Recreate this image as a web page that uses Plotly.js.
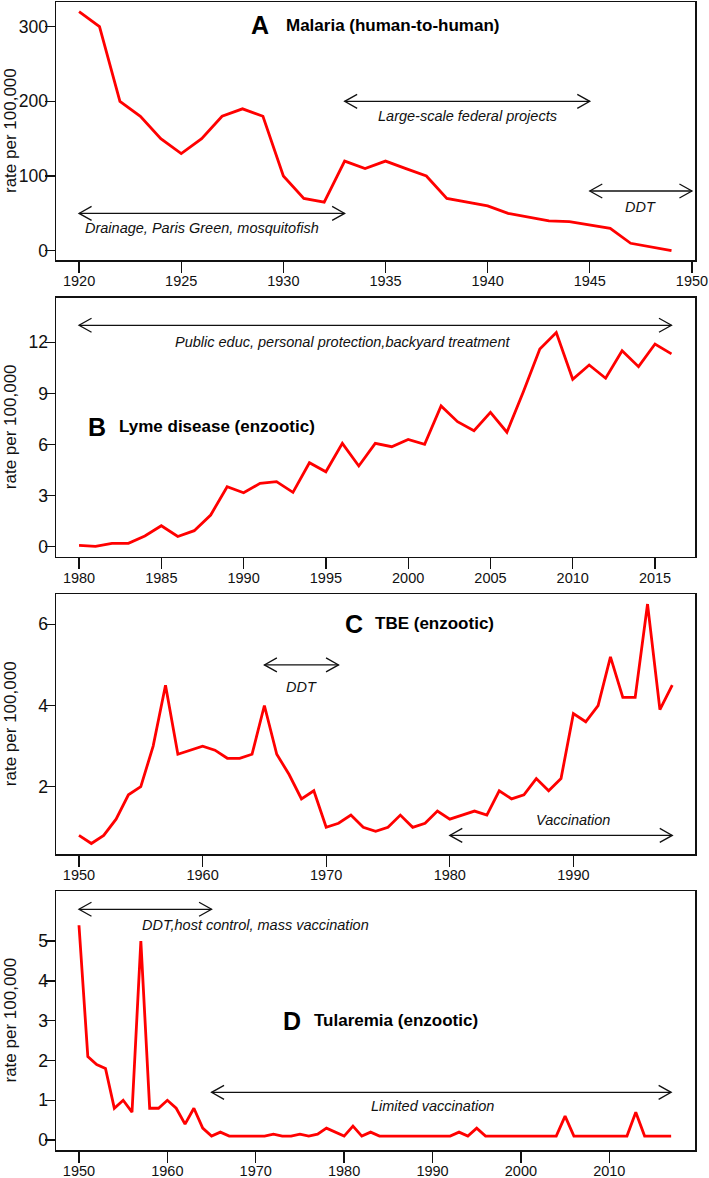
<!DOCTYPE html>
<html>
<head>
<meta charset="utf-8">
<script src="https://cdn.plot.ly/plotly-3.0.1.min.js"></script>
<style>html,body{margin:0;padding:0;background:#fff;}#chart{width:709px;height:1178px;}</style>
</head>
<body>
<div id="chart"></div>
<script>
// ---- Panel A: Malaria (human-to-human) ----
const yearsA = [1920,1921,1922,1923,1924,1925,1926,1927,1928,1929,1930,1931,1932,1933,1934,1935,1936,1937,1938,1939,1940,1941,1942,1943,1944,1945,1946,1947,1948,1949];
const malaria = [320,300,200,180,150,130,150,180,190,180,100,70,65,120,110,120,110,100,70,65,60,50,45,40,39,34,30,10,5,0];

// ---- Panel B: Lyme disease (enzootic) ----
const yearsB = [1980,1981,1982,1983,1984,1985,1986,1987,1988,1989,1990,1991,1992,1993,1994,1995,1996,1997,1998,1999,2000,2001,2002,2003,2004,2005,2006,2007,2008,2009,2010,2011,2012,2013,2014,2015,2016];
const lyme = [0.08,0.02,0.2,0.2,0.63,1.23,0.6,0.94,1.86,3.52,3.17,3.72,3.82,3.19,4.93,4.4,6.07,4.74,6.07,5.87,6.3,6.01,8.26,7.34,6.81,7.89,6.72,9.1,11.61,12.57,9.83,10.67,9.89,11.51,10.57,11.9,11.32];

// ---- Panel C: TBE (enzootic) ----
const yearsC = [1950,1951,1952,1953,1954,1955,1956,1957,1958,1959,1960,1961,1962,1963,1964,1965,1966,1967,1968,1969,1970,1971,1972,1973,1974,1975,1976,1977,1978,1979,1980,1981,1982,1983,1984,1985,1986,1987,1988,1989,1990,1991,1992,1993,1994,1995,1996,1997,1998];
const tbe = [0.8,0.6,0.8,1.2,1.8,2.0,3.0,4.5,2.8,2.9,3.0,2.9,2.7,2.7,2.8,4.0,2.8,2.3,1.7,1.9,1.0,1.1,1.3,1.0,0.9,1.0,1.3,1.0,1.1,1.4,1.2,1.3,1.4,1.3,1.9,1.7,1.8,2.2,1.9,2.2,3.8,3.6,4.0,5.2,4.2,4.2,6.5,3.9,4.5];

// ---- Panel D: Tularemia (enzootic) ----
const yearsD = [1950,1951,1952,1953,1954,1955,1956,1957,1958,1959,1960,1961,1962,1963,1964,1965,1966,1967,1968,1969,1970,1971,1972,1973,1974,1975,1976,1977,1978,1979,1980,1981,1982,1983,1984,1985,1986,1987,1988,1989,1990,1991,1992,1993,1994,1995,1996,1997,1998,1999,2000,2001,2002,2003,2004,2005,2006,2007,2008,2009,2010,2011,2012,2013,2014,2015,2016,2017];
const tularemia = [5.4,2.1,1.9,1.8,0.8,1.0,0.7,5.0,0.8,0.8,1.0,0.8,0.4,0.8,0.3,0.1,0.2,0.1,0.1,0.1,0.1,0.1,0.15,0.1,0.1,0.15,0.1,0.15,0.3,0.2,0.1,0.35,0.1,0.2,0.1,0.1,0.1,0.1,0.1,0.1,0.1,0.1,0.1,0.2,0.1,0.3,0.1,0.1,0.1,0.1,0.1,0.1,0.1,0.1,0.1,0.6,0.1,0.1,0.1,0.1,0.1,0.1,0.1,0.7,0.1,0.1,0.1,0.1];

// ---- Tick labels ----
const ticksAx = [1920,1925,1930,1935,1940,1945,1950];
const ticksAy = [0,100,200,300];
const ticksBx = [1980,1985,1990,1995,2000,2005,2010,2015];
const ticksBy = [0,3,6,9,12];
const ticksCx = [1950,1960,1970,1980,1990];
const ticksCy = [2,4,6];
const ticksDx = [1950,1960,1970,1980,1990,2000,2010];
const ticksDy = [0,1,2,3,4,5];

// ---- Panel titles and intervention labels ----
const letters = ['A','B','C','D'];
const panelTitles = ['Malaria (human-to-human)','Lyme disease (enzootic)','TBE (enzootic)','Tularemia (enzootic)'];
// interventions: [panel index, start year, end year, arrow level, label, label x, label y]
const interventions = [
  [0,1920,1933,50,'Drainage, Paris Green, mosquitofish',1926.0,30],
  [0,1933,1945,200,'Large-scale federal projects',1939.0,181],
  [0,1945,1950,80,'DDT',1947.5,59],
  [1,1980,2016,13,'Public educ, personal protection,backyard treatment',1996.0,12.04],
  [2,1965,1971,5.0,'DDT',1968.0,4.46],
  [2,1980,1998,0.8,'Vaccination',1990.0,1.18],
  [3,1950,1965,5.8,'DDT,host control, mass vaccination',1970.0,5.4],
  [3,1965,2017,1.2,'Limited vaccination',1990.0,0.86]
];

const FONT = 'Liberation Sans, Arial, Helvetica, sans-serif';
const ink = '#111';
const W = 709, H = 1178;
const xDom = [56/W, 695/W];
const panelsPx = [[2,260],[297.7,556.7],[594.3,854],[891,1150]];
const yDoms = panelsPx.map(p => [1 - p[1]/H, 1 - p[0]/H]);

const xRanges = [[1918.87,1950.15],[1978.6,2017.43],[1948.14,1999.84],[1947.4,2019.7]];
const yRanges = [[-12.4,333],[-0.587,14.62],[0.342,6.74],[-0.25,6.26]];
const xTicks = [ticksAx,ticksBx,ticksCx,ticksDx];
const yTicks = [ticksAy,ticksBy,ticksCy,ticksDy];
const titlePos = [[1928.37,1930.08,302],[1980.49,1982.37,7.05],[1971.44,1973.9,6.02],[1972.93,1976.5,3.0]];

const xs = [yearsA,yearsB,yearsC,yearsD];
const ys = [malaria,lyme,tbe,tularemia];

const traces = xs.map((x,i) => ({
  x: x, y: ys[i], type:'scatter', mode:'lines',
  line:{color:'#ff0000', width:2.8},
  xaxis: i===0 ? 'x' : 'x'+(i+1),
  yaxis: i===0 ? 'y' : 'y'+(i+1),
  hoverinfo:'skip', showlegend:false
}));

const layout = {
  width: W, height: H,
  margin:{l:0,r:0,t:0,b:0},
  paper_bgcolor:'#fff', plot_bgcolor:'#fff',
  font:{family:FONT, color:ink},
  showlegend:false,
  annotations:[], shapes:[]
};

for (let i=0;i<4;i++){
  const s = i===0 ? '' : String(i+1);
  layout['xaxis'+s] = {
    domain:xDom, range:xRanges[i], anchor:'y'+s,
    tickmode:'array', tickvals:xTicks[i], ticktext:xTicks[i].map(String),
    ticks:'outside', ticklen:11, tickwidth:1.3, tickcolor:ink,
    ticklabelstandoff:-4,
    showline:true, linecolor:ink, linewidth:1.5, mirror:true,
    showgrid:false, zeroline:false,
    tickfont:{family:FONT, size:14.5, color:ink}
  };
  layout['yaxis'+s] = {
    domain:yDoms[i], range:yRanges[i], anchor:'x'+s,
    tickmode:'array', tickvals:yTicks[i], ticktext:yTicks[i].map(String),
    ticks:'outside', ticklen:10, tickwidth:1.3, tickcolor:ink,
    ticklabelstandoff:-7,
    showline:true, linecolor:ink, linewidth:1.5, mirror:true,
    showgrid:false, zeroline:false,
    tickfont:{family:FONT, size:17.5, color:ink}
  };
  const xr = 'x'+s, yr = 'y'+s;
  // y axis title
  layout.annotations.push({
    xref:'paper', yref:'paper', x:10/W, y:(yDoms[i][0]+yDoms[i][1])/2,
    text:'rate per 100,000', textangle:-90, showarrow:false,
    xanchor:'center', yanchor:'middle',
    font:{family:FONT, size:17, color:ink}
  });
  // panel letter
  layout.annotations.push({
    xref:xr, yref:yr, x:titlePos[i][0], y:titlePos[i][2],
    text:'<b>'+letters[i]+'</b>', showarrow:false, xanchor:'left', yanchor:'middle',
    borderpad:0, font:{family:FONT, size:25, color:'#000'}
  });
  layout.annotations.push({
    xref:xr, yref:yr, x:titlePos[i][1], y:titlePos[i][2],
    text:'<b>'+panelTitles[i]+'</b>', showarrow:false, xanchor:'left', yanchor:'middle',
    borderpad:0, font:{family:FONT, size:17, color:'#000'}
  });
}

interventions.forEach(iv => {
  const [p,x0,x1,yv,label,lx,ly] = iv;
  const s = p===0 ? '' : String(p+1);
  const xr = 'x'+s, yr = 'y'+s;
  const lc = {color:ink, width:1.3};
  layout.shapes.push({type:'line', xref:xr, yref:yr, x0:x0, x1:x1, y0:yv, y1:yv, line:lc});
  layout.shapes.push({type:'path', xref:xr, yref:yr, xsizemode:'pixel', ysizemode:'pixel',
    xanchor:x0, yanchor:yv, path:'M12.5,7 L0,0 L12.5,-7', line:lc});
  layout.shapes.push({type:'path', xref:xr, yref:yr, xsizemode:'pixel', ysizemode:'pixel',
    xanchor:x1, yanchor:yv, path:'M-12.5,7 L0,0 L-12.5,-7', line:lc});
  layout.annotations.push({
    xref:xr, yref:yr, x:lx, y:ly, text:'<i>'+label+'</i>', showarrow:false,
    xanchor:'center', yanchor:'middle', font:{family:FONT, size:14.5, color:ink}
  });
});

Plotly.newPlot('chart', traces, layout, {displayModeBar:false, staticPlot:true});
</script>
</body>
</html>
